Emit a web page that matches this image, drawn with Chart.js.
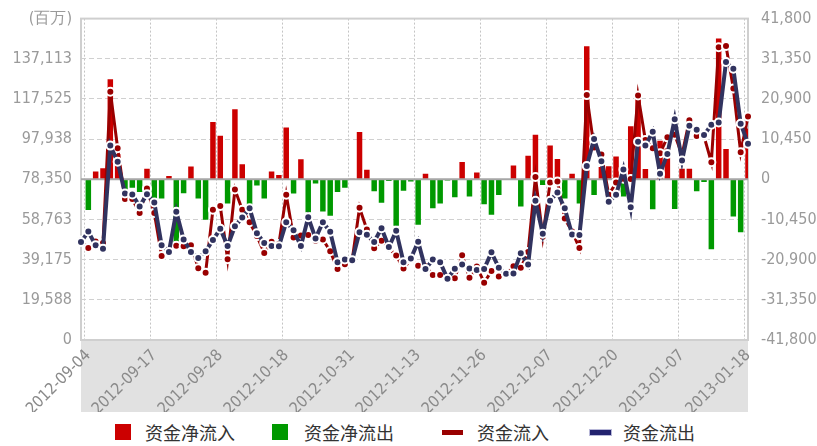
<!DOCTYPE html>
<html>
<head>
<meta charset="utf-8">
<script src="https://cdn.jsdelivr.net/npm/chart.js@4.4.1/dist/chart.umd.min.js"></script>
<style>
  html, body { margin: 0; padding: 0; background: #fff; }
  #wrap { position: relative; width: 817px; height: 446px; overflow: hidden; }
  #flowChart { position: absolute; left: 0; top: 0; }
  .lg { position: absolute; top: 421px; height: 22px; line-height: 22px; font-size: 18px; color: #333;
        font-family: "Noto Sans CJK SC", sans-serif; white-space: nowrap; }
  .sw { position: absolute; }
</style>
</head>
<body>
<div id="wrap">
  <canvas id="flowChart" width="817" height="412"></canvas>
  <div class="sw" style="left:115px;top:424px;width:16px;height:16px;background:#cc0000"></div>
  <div class="lg" style="left:145px">资金净流入</div>
  <div class="sw" style="left:272px;top:424px;width:16px;height:16px;background:#009900"></div>
  <div class="lg" style="left:304px">资金净流出</div>
  <div class="sw" style="left:442px;top:430px;width:21px;height:5px;background:#990000"></div>
  <div class="lg" style="left:477px">资金流入</div>
  <div class="sw" style="left:589px;top:429px;width:21px;height:5px;background:#22226e;border:1px solid #b8b8d8"></div>
  <div class="lg" style="left:623px">资金流出</div>
</div>
<script>
// trading days shown on the x axis
const dates = [
  '2012-09-03','2012-09-04','2012-09-05','2012-09-06','2012-09-07',
  '2012-09-10','2012-09-11','2012-09-12','2012-09-13','2012-09-14',
  '2012-09-17','2012-09-18','2012-09-19','2012-09-20','2012-09-21',
  '2012-09-24','2012-09-25','2012-09-26','2012-09-27','2012-09-28',
  '2012-10-08','2012-10-09','2012-10-10','2012-10-11','2012-10-12',
  '2012-10-15','2012-10-16','2012-10-17','2012-10-18','2012-10-19',
  '2012-10-22','2012-10-23','2012-10-24','2012-10-25','2012-10-26',
  '2012-10-29','2012-10-30','2012-10-31','2012-11-01','2012-11-02',
  '2012-11-05','2012-11-06','2012-11-07','2012-11-08','2012-11-09',
  '2012-11-12','2012-11-13','2012-11-14','2012-11-15','2012-11-16',
  '2012-11-19','2012-11-20','2012-11-21','2012-11-22','2012-11-23',
  '2012-11-26','2012-11-27','2012-11-28','2012-11-29','2012-11-30',
  '2012-12-03','2012-12-04','2012-12-05','2012-12-06','2012-12-07',
  '2012-12-10','2012-12-11','2012-12-12','2012-12-13','2012-12-14',
  '2012-12-17','2012-12-18','2012-12-19','2012-12-20','2012-12-21',
  '2012-12-24','2012-12-25','2012-12-26','2012-12-27','2012-12-28',
  '2012-12-31','2013-01-04','2013-01-07','2013-01-08','2013-01-09',
  '2013-01-10','2013-01-11','2013-01-14','2013-01-15','2013-01-16',
  '2013-01-17','2013-01-18'
];

// 资金流入 (left axis, 百万)
const inflow = [
  48500, 44860, 48080, 47275, 121013, 93482, 68688, 68688, 61926, 73840,
  61926, 40996, 43733, 45987, 45665, 46148, 35039, 32785, 63536, 65307,
  39386, 73357, 63536, 57418, 50656, 42445, 47919, 46792, 70781, 50012,
  50978, 51139, 48402, 49046, 43250, 34556, 36971, 39064, 64502, 53876,
  44699, 48402, 44860, 41157, 34878, 39064, 36166, 36005, 31658, 31658,
  29565, 30048, 41318, 30370, 35844, 27955, 33590, 31014, 32141, 36005,
  35200, 42928, 79475, 50334, 76738, 77221, 59189, 52910, 44860, 119403,
  93804, 90423, 70781, 76738, 78670, 78509, 119242, 97507, 93482, 91067,
  98795, 100083, 90262, 107167, 99439, 99278, 86720, 142748, 143392, 122623,
  91550, 108938
];

// 资金流出 (left axis, 百万)
const outflow = [
  47758, 52910, 46148, 44538, 94770, 86881, 71425, 70942, 65146, 71103,
  67078, 46148, 42928, 62570, 49046, 42928, 40030, 43250, 48724, 54198,
  45826, 55486, 59672, 64180, 52105, 47275, 45826, 45665, 57418, 53554,
  45826, 59833, 49529, 57418, 52749, 37937, 39225, 38903, 52588, 51300,
  47758, 54520, 45343, 53232, 37937, 39708, 47919, 34556, 39225, 37937,
  29887, 34717, 36810, 34878, 34073, 34556, 42767, 35200, 32302, 32463,
  42284, 36810, 67883, 51783, 67883, 71908, 64180, 51461, 51139, 84788,
  97990, 87203, 67400, 70781, 83178, 64663, 96702, 94770, 101532, 81085,
  90745, 107650, 87525, 104430, 102498, 99922, 104913, 106040, 135503, 132283,
  105396, 95736
];

// 资金净流入/净流出 (right axis)
const netFlow = [
  0, -8000, 2000, 2900, 26000, 6600, -2700, -2200, -3300, 2750,
  -5100, -5000, 850, -16600, -3600, 3300, -5000, -10500, 14900, 11300,
  -6300, 18200, 3900, -6700, -1600, -5000, 2000, 1100, 13500, -3700,
  5200, -8600, -1100, -8400, -9500, -3300, -2200, 150, 12300, 2500,
  -3100, -6100, -450, -12100, -3000, -600, -11800, 1450, -7500, -6300,
  -300, -4700, 4500, -4500, 1800, -6500, -9200, -4100, -200, 3600,
  -7100, 6100, 11600, -1500, 8800, 5300, -5000, 1450, -6300, 34600,
  -4100, 3200, 3400, 5900, -4500, 13800, 22500, 2700, -7800, 10000,
  8000, -7700, 2750, 2750, -3100, -700, -18200, 36600, 7900, -9700,
  -13800, 13200
];

const leftTickLabels = ['0', '19,588', '39,175', '58,763', '78,350', '97,938', '117,525', '137,113', '(百万)'];
const rightTickLabels = ['-41,800', '-31,350', '-20,900', '-10,450', '0', '10,450', '20,900', '31,350', '41,800'];

const netIn = netFlow.map(v => v > 0 ? v : null);
const netOut = netFlow.map(v => v < 0 ? v : null);

const tickFont = { family: "'DejaVu Sans Condensed', 'DejaVu Sans', sans-serif", size: 16 };

// gray band under the plot, frame round it, zero line over the bars
const framePlugin = {
  id: 'frame',
  beforeDraw(chart) {
    const { ctx, chartArea: a, scales } = chart;
    ctx.save();
    ctx.fillStyle = '#e1e1e1';
    ctx.fillRect(a.left, a.bottom, a.right - a.left, scales.x.bottom - a.bottom);
    ctx.restore();
  },
  beforeDatasetsDraw(chart) {
    const { ctx, chartArea: a } = chart;
    ctx.save();
    ctx.strokeStyle = '#cfcfcf';
    ctx.lineWidth = 2;
    ctx.strokeRect(a.left, a.top, a.right - a.left, a.bottom - a.top);
    ctx.restore();
  },
  afterDatasetDraw(chart, args) {
    if (args.index !== 2) return;
    const { ctx, chartArea: a, scales } = chart;
    const y = scales.yNet.getPixelForValue(0);
    ctx.save();
    ctx.strokeStyle = '#a6a6a6';
    ctx.lineWidth = 2;
    ctx.beginPath();
    ctx.moveTo(a.left, y);
    ctx.lineTo(a.right, y);
    ctx.stroke();
    ctx.restore();
  }
};

new Chart(document.getElementById('flowChart'), {
  type: 'bar',
  data: {
    labels: dates,
    datasets: [
      {
        type: 'line', label: '资金流出', data: outflow, yAxisID: 'yFlow', order: 0,
        borderColor: '#31335f', borderWidth: 4, tension: 0, clip: false,
        pointRadius: 4, pointBackgroundColor: '#31335f', pointBorderColor: '#ffffff', pointBorderWidth: 2
      },
      {
        type: 'line', label: '资金流入', data: inflow, yAxisID: 'yFlow', order: 1,
        borderColor: '#990000', borderWidth: 3, tension: 0, clip: false,
        pointRadius: 4, pointBackgroundColor: '#990000', pointBorderColor: '#ffffff', pointBorderWidth: 2
      },
      {
        label: '资金净流入', data: netIn, yAxisID: 'yNet', order: 2, grouped: false,
        backgroundColor: '#cc0000', barPercentage: 0.75, categoryPercentage: 1
      },
      {
        label: '资金净流出', data: netOut, yAxisID: 'yNet', order: 3, grouped: false,
        backgroundColor: '#009900', barPercentage: 0.75, categoryPercentage: 1
      }
    ]
  },
  options: {
    responsive: false,
    animation: false,
    layout: { padding: { top: 15, left: 0, right: 0, bottom: 0 } },
    plugins: { legend: { display: false }, tooltip: { enabled: false } },
    scales: {
      x: {
        offset: false,
        grid: {
          drawTicks: false,
          lineWidth: 1,
          color: c => ((c.index - 1) % 9 === 0 ? '#c4c4c4' : 'rgba(0,0,0,0)')
        },
        border: { display: false, dash: [2, 2] },
        ticks: {
          autoSkip: false, minRotation: 45, maxRotation: 45, padding: 6,
          color: '#8a8a8a', font: { family: tickFont.family, size: 16 },
          callback: (v, i) => ((i - 1) % 9 === 0 ? dates[i] : '')
        },
        afterFit(s) { s.height = 72; }
      },
      yFlow: {
        position: 'left', min: 0, max: 156700,
        grid: { drawTicks: false, color: '#d0d0d0' },
        border: { display: false, dash: [5, 3] },
        ticks: {
          stepSize: 19587.5, padding: 9, color: '#9a9a9a', font: tickFont,
          callback: (v, i) => leftTickLabels[i]
        },
        afterFit(s) { s.width = 81; }
      },
      yNet: {
        position: 'right', min: -41800, max: 41800,
        grid: { display: false },
        border: { display: false },
        ticks: {
          stepSize: 10450, padding: 5, color: '#9a9a9a', font: tickFont,
          callback: (v, i) => rightTickLabels[i]
        },
        afterFit(s) { s.width = 69; }
      }
    }
  },
  plugins: [framePlugin]
});
</script>
</body>
</html>
